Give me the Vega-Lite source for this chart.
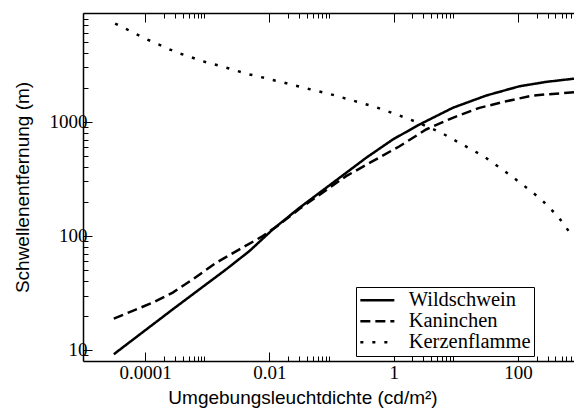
{
  "$schema": "https://vega.github.io/schema/vega-lite/v6.json",
  "autosize": {"type": "none"},
  "padding": {"left": 83, "top": 13, "right": 0, "bottom": 51},
  "width": 491,
  "height": 348,
  "background": "white",
  "config": {
    "view": {"stroke": null},
    "axis": {"domainColor": "black", "domainWidth": 1.5, "tickColor": "black", "tickWidth": 1, "grid": false, "labelColor": "black", "titleColor": "black", "labelFont": "Liberation Serif", "labelFontSize": 19, "titleFont": "Liberation Sans", "titleFontSize": 19, "titleFontWeight": "normal", "labelOverlap": false, "labelBound": false, "labelFlush": false}
  },
  "data": {"values": [
    {"s": "Wildschwein", "x": 3.13e-5, "y": 9.17},
    {"s": "Wildschwein", "x": 9.75e-5, "y": 14.7},
    {"s": "Wildschwein", "x": 2.78e-4, "y": 22.7},
    {"s": "Wildschwein", "x": 7.48e-4, "y": 34.0},
    {"s": "Wildschwein", "x": 2.01e-3, "y": 50.9},
    {"s": "Wildschwein", "x": 4.76e-3, "y": 73.6},
    {"s": "Wildschwein", "x": 0.0113, "y": 114},
    {"s": "Wildschwein", "x": 0.0305, "y": 176.6},
    {"s": "Wildschwein", "x": 0.134, "y": 323},
    {"s": "Wildschwein", "x": 0.36, "y": 484},
    {"s": "Wildschwein", "x": 0.964, "y": 700},
    {"s": "Wildschwein", "x": 2.59, "y": 947},
    {"s": "Wildschwein", "x": 8.9, "y": 1327},
    {"s": "Wildschwein", "x": 30.7, "y": 1700},
    {"s": "Wildschwein", "x": 105, "y": 2050},
    {"s": "Wildschwein", "x": 283, "y": 2240},
    {"s": "Wildschwein", "x": 794, "y": 2390},
    {"s": "Kaninchen", "x": 3.13e-5, "y": 18.8},
    {"s": "Kaninchen", "x": 6.3e-5, "y": 22.0},
    {"s": "Kaninchen", "x": 1.32e-4, "y": 26.0},
    {"s": "Kaninchen", "x": 2.78e-4, "y": 31.8},
    {"s": "Kaninchen", "x": 5.83e-4, "y": 41.6},
    {"s": "Kaninchen", "x": 1.39e-3, "y": 58.2},
    {"s": "Kaninchen", "x": 3.29e-3, "y": 76.2},
    {"s": "Kaninchen", "x": 7.8e-3, "y": 99.6},
    {"s": "Kaninchen", "x": 0.0145, "y": 126},
    {"s": "Kaninchen", "x": 0.0305, "y": 173},
    {"s": "Kaninchen", "x": 0.171, "y": 334},
    {"s": "Kaninchen", "x": 0.459, "y": 452},
    {"s": "Kaninchen", "x": 1.24, "y": 611},
    {"s": "Kaninchen", "x": 3.32, "y": 857},
    {"s": "Kaninchen", "x": 8.9, "y": 1084},
    {"s": "Kaninchen", "x": 23.9, "y": 1327},
    {"s": "Kaninchen", "x": 64.4, "y": 1514},
    {"s": "Kaninchen", "x": 172, "y": 1700},
    {"s": "Kaninchen", "x": 794, "y": 1820},
    {"s": "Kerzenflamme", "x": 3.29e-5, "y": 7261},
    {"s": "Kerzenflamme", "x": 4.94e-5, "y": 6516},
    {"s": "Kerzenflamme", "x": 7.33e-5, "y": 5848},
    {"s": "Kerzenflamme", "x": 1.09e-4, "y": 5260},
    {"s": "Kerzenflamme", "x": 1.64e-4, "y": 4786},
    {"s": "Kerzenflamme", "x": 2.46e-4, "y": 4325},
    {"s": "Kerzenflamme", "x": 3.66e-4, "y": 3963},
    {"s": "Kerzenflamme", "x": 5.56e-4, "y": 3681},
    {"s": "Kerzenflamme", "x": 8.45e-4, "y": 3396},
    {"s": "Kerzenflamme", "x": 1.30e-3, "y": 3192},
    {"s": "Kerzenflamme", "x": 2.01e-3, "y": 2985},
    {"s": "Kerzenflamme", "x": 3.02e-3, "y": 2799},
    {"s": "Kerzenflamme", "x": 4.65e-3, "y": 2612},
    {"s": "Kerzenflamme", "x": 7.16e-3, "y": 2477},
    {"s": "Kerzenflamme", "x": 0.011, "y": 2333},
    {"s": "Kerzenflamme", "x": 0.0164, "y": 2223},
    {"s": "Kerzenflamme", "x": 0.0389, "y": 1968},
    {"s": "Kerzenflamme", "x": 0.0923, "y": 1758},
    {"s": "Kerzenflamme", "x": 0.219, "y": 1538},
    {"s": "Kerzenflamme", "x": 0.521, "y": 1343},
    {"s": "Kerzenflamme", "x": 1.16, "y": 1151},
    {"s": "Kerzenflamme", "x": 2.69, "y": 966},
    {"s": "Kerzenflamme", "x": 6.01, "y": 794},
    {"s": "Kerzenflamme", "x": 12.9, "y": 630},
    {"s": "Kerzenflamme", "x": 27.7, "y": 500},
    {"s": "Kerzenflamme", "x": 58.2, "y": 377},
    {"s": "Kerzenflamme", "x": 119, "y": 281},
    {"s": "Kerzenflamme", "x": 236, "y": 209},
    {"s": "Kerzenflamme", "x": 301, "y": 182},
    {"s": "Kerzenflamme", "x": 436, "y": 149},
    {"s": "Kerzenflamme", "x": 714, "y": 103}
  ]},
  "layer": [
    {
      "mark": {"type": "line", "color": "black", "strokeWidth": 2.5, "clip": true, "strokeCap": "butt"},
      "encoding": {
        "x": {"field": "x", "type": "quantitative",
          "scale": {"type": "log", "domain": [0.00001, 794.3], "nice": false},
          "axis": {"orient": "bottom",
            "values": [0.0001, 0.0002, 0.0003, 0.0004, 0.0005, 0.0006, 0.0007, 0.0008, 0.0009, 0.01, 0.02, 0.03, 0.04, 0.05, 0.06, 0.07, 0.08, 0.09, 1, 2, 3, 4, 5, 6, 7, 8, 9, 100, 200, 300, 400, 500, 600, 700],
            "tickSize": {"condition": {"test": "indexof([0.0001, 0.01, 1, 100], datum.value) >= 0", "value": -9}, "value": -5},
            "labelExpr": "datum.value == 0.0001 ? '0.0001' : datum.value == 0.01 ? '0.01' : datum.value == 1 ? '1' : datum.value == 100 ? '100' : ''",
            "labelPadding": 11,
            "title": "Umgebungsleuchtdichte (cd/m²)",
            "titleX": 219.5,
            "titleAnchor": "start",
            "titleAlign": "center",
            "titlePadding": 2}},
        "y": {"field": "y", "type": "quantitative",
          "scale": {"type": "log", "domain": [8, 9000], "nice": false},
          "axis": {"orient": "left",
            "values": [9, 10, 20, 30, 40, 50, 60, 70, 80, 90, 100, 200, 300, 400, 500, 600, 700, 800, 900, 1000, 2000, 3000, 4000, 5000, 6000, 7000, 8000, 9000],
            "tickSize": {"condition": {"test": "indexof([10, 100, 1000], datum.value) >= 0", "value": -9}, "value": -5},
            "labelExpr": "datum.value == 10 ? '10' : datum.value == 100 ? '100' : datum.value == 1000 ? '1000' : ''",
            "labelPadding": 5,
            "title": "Schwellenentfernung (m)",
            "titlePadding": 17}},
        "strokeDash": {"field": "s", "type": "nominal",
          "scale": {"domain": ["Wildschwein", "Kaninchen", "Kerzenflamme"], "range": [[1, 0], [10, 5], [3, 9]]},
          "legend": {"title": null, "orient": "none", "legendX": 273, "legendY": 274,
            "symbolType": "M-2.125,0H2.125", "symbolSize": 256, "symbolStrokeWidth": 2.5, "symbolStrokeColor": "black",
            "symbolOffset": 8.1,
            "labelFont": "Liberation Serif", "labelFontSize": 20.5, "labelColor": "black", "labelOffset": 21.1,
            "strokeColor": "black", "fillColor": "white", "padding": 3, "rowPadding": 0}}
      }
    },
    {
      "mark": {"type": "line", "strokeOpacity": 0},
      "encoding": {
        "x": {"field": "x", "type": "quantitative",
          "scale": {"type": "log", "domain": [0.00001, 794.3], "nice": false},
          "axis": {"orient": "top",
            "values": [0.0001, 0.0002, 0.0003, 0.0004, 0.0005, 0.0006, 0.0007, 0.0008, 0.0009, 0.01, 0.02, 0.03, 0.04, 0.05, 0.06, 0.07, 0.08, 0.09, 1, 2, 3, 4, 5, 6, 7, 8, 9, 100, 200, 300, 400, 500, 600, 700],
            "tickSize": {"condition": {"test": "indexof([0.0001, 0.01, 1, 100], datum.value) >= 0", "value": -9}, "value": -5},
            "labels": false, "title": null}},
        "y": {"field": "y", "type": "quantitative"},
        "detail": {"field": "s"}
      }
    }
  ],
  "resolve": {"axis": {"x": "independent"}}
}
